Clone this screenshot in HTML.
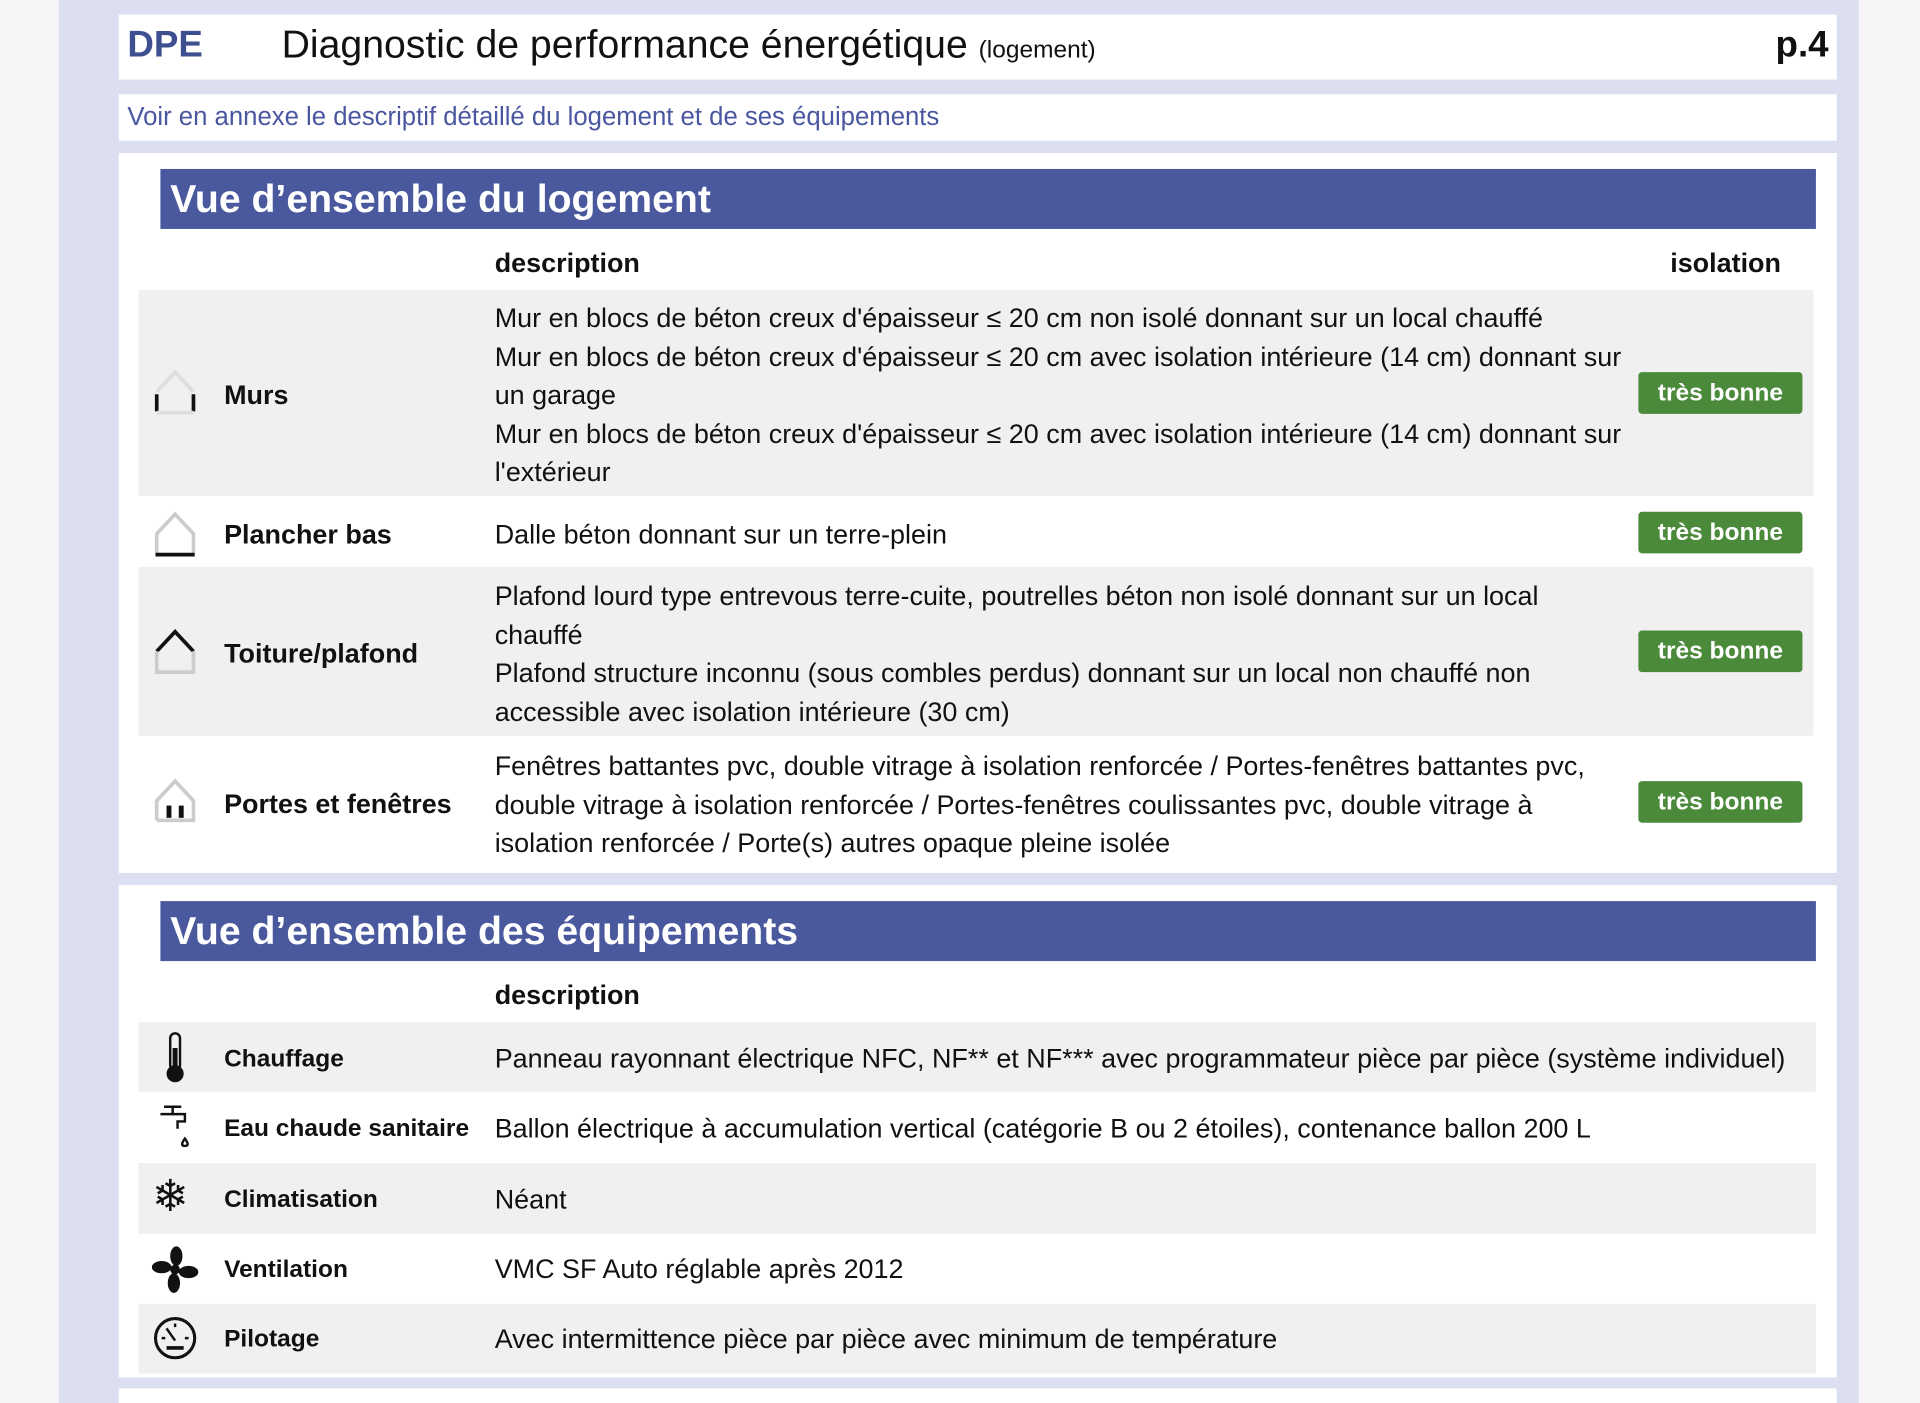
<!DOCTYPE html>
<html><head><meta charset="utf-8"><style>
html,body{margin:0;padding:0;width:1920px;height:1403px;overflow:hidden;background:#f6f6f8}
#s{position:absolute;left:0;top:0;width:1568px;height:1146px;transform:scale(1.22449,1.2243);transform-origin:0 0;font-family:"Liberation Sans Narrow","Liberation Sans",sans-serif;color:#111}
.a{position:absolute;white-space:nowrap}
.box{position:absolute;background:#fff}
.ban{position:absolute;left:131px;width:1352px;height:49px;background:#4a589d;color:#fff;font-weight:bold;font-size:32px;line-height:49px;padding-left:8px;box-sizing:border-box}
.row{position:absolute;left:113px;width:1368px;background:#f0f0f0}
.t{position:absolute;font-size:22px;line-height:31.5px;white-space:nowrap}
.b{font-weight:bold}
.badge{position:absolute;left:1338px;width:134px;height:34px;background:#4b8a3b;color:#fff;font-size:20px;line-height:34px;text-align:center;border-radius:3px;font-weight:bold}
</style></head><body><div id="s">
<div class="box" style="left:0;top:0;width:48px;height:1146px;background:#f6f6f8"></div>
<div class="box" style="left:48px;top:0;width:1470px;height:1146px;background:#dcdff0"></div>
<div class="box" style="left:1518px;top:0;width:50px;height:1146px;background:#f6f6f8"></div>

<div class="box" style="left:97px;top:12px;width:1403px;height:53px"></div>
<div class="a b" style="left:104px;top:20px;font-size:30px;color:#3d4f8f">DPE</div>
<div class="a" style="left:230px;top:18px;font-size:32px">Diagnostic de performance énergétique <span style="font-size:20px">(logement)</span></div>
<div class="a b" style="left:1450px;top:20px;font-size:30px">p.4</div>

<div class="box" style="left:97px;top:77px;width:1403px;height:38px"></div>
<div class="a" style="left:104px;top:84px;font-size:21px;color:#4a56a0">Voir en annexe le descriptif détaillé du logement et de ses équipements</div>

<div class="box" style="left:97px;top:125px;width:1403px;height:588px"></div>
<div class="ban" style="top:138px">Vue d’ensemble du logement</div>
<div class="t b" style="left:404px;top:199px">description</div>
<div class="t b" style="left:1364px;top:199px">isolation</div>

<div class="row" style="top:237px;height:168px"></div>
<div class="row" style="top:463px;height:138px"></div>

<svg class="a" style="left:124px;top:300px" width="38" height="40"><path d="M4 20 L19 4 L34 20" fill="none" stroke="#ddd" stroke-width="3"/><path d="M4 22v14M34 22v14" stroke="#111" stroke-width="3"/><path d="M4 37h30" stroke="#ddd" stroke-width="3"/></svg>
<div class="t b" style="left:183px;top:307px">Murs</div>
<div class="t" style="left:404px;top:244px">Mur en blocs de béton creux d'épaisseur ≤ 20 cm non isolé donnant sur un local chauffé<br>Mur en blocs de béton creux d'épaisseur ≤ 20 cm avec isolation intérieure (14 cm) donnant sur<br>un garage<br>Mur en blocs de béton creux d'épaisseur ≤ 20 cm avec isolation intérieure (14 cm) donnant sur<br>l'extérieur</div>
<div class="badge" style="top:304px">très bonne</div>

<svg class="a" style="left:124px;top:416px" width="38" height="40"><path d="M4 36 V20 L19 4 L34 20 V36" fill="none" stroke="#ccc" stroke-width="3"/><path d="M3 37h32" stroke="#111" stroke-width="3"/></svg>
<div class="t b" style="left:183px;top:421px">Plancher bas</div>
<div class="t" style="left:404px;top:421px">Dalle béton donnant sur un terre-plein</div>
<div class="badge" style="top:418px">très bonne</div>

<svg class="a" style="left:124px;top:512px" width="38" height="40"><path d="M4 20 L19 4 L34 20" fill="none" stroke="#111" stroke-width="3"/><path d="M4 20 V37 H34 V20" fill="none" stroke="#ccc" stroke-width="3"/></svg>
<div class="t b" style="left:183px;top:518px">Toiture/plafond</div>
<div class="t" style="left:404px;top:471px">Plafond lourd type entrevous terre-cuite, poutrelles béton non isolé donnant sur un local<br>chauffé<br>Plafond structure inconnu (sous combles perdus) donnant sur un local non chauffé non<br>accessible avec isolation intérieure (30 cm)</div>
<div class="badge" style="top:515px">très bonne</div>

<svg class="a" style="left:124px;top:634px" width="38" height="40"><path d="M4 36 V20 L19 4 L34 20 V36 H4" fill="none" stroke="#ccc" stroke-width="3"/><rect x="12" y="24" width="4" height="10" fill="#111"/><rect x="22" y="24" width="4" height="10" fill="#111"/></svg>
<div class="t b" style="left:183px;top:641px">Portes et fenêtres</div>
<div class="t" style="left:404px;top:610px">Fenêtres battantes pvc, double vitrage à isolation renforcée / Portes-fenêtres battantes pvc,<br>double vitrage à isolation renforcée / Portes-fenêtres coulissantes pvc, double vitrage à<br>isolation renforcée / Porte(s) autres opaque pleine isolée</div>
<div class="badge" style="top:638px">très bonne</div>

<div class="box" style="left:97px;top:723px;width:1403px;height:402px"></div>
<div class="ban" style="top:736px">Vue d’ensemble des équipements</div>
<div class="t b" style="left:404px;top:797px">description</div>

<div class="row" style="top:835px;height:57px;width:1370px"></div>
<div class="row" style="top:950px;height:58px;width:1370px"></div>
<div class="row" style="top:1065px;height:57px;width:1370px"></div>

<svg class="a" style="left:130px;top:842px" width="26" height="44"><rect x="9" y="2" width="8" height="30" rx="4" fill="none" stroke="#111" stroke-width="2"/><circle cx="13" cy="35" r="7" fill="#111"/><rect x="11" y="14" width="4" height="20" fill="#111"/></svg>
<div class="t b" style="left:183px;top:850px;font-size:20px">Chauffage</div>
<div class="t" style="left:404px;top:849px">Panneau rayonnant électrique NFC, NF** et NF*** avec programmateur pièce par pièce (système individuel)</div>

<svg class="a" style="left:128px;top:900px" width="30" height="42"><path d="M6 4h14M13 4v5M3 10h20v6h-6v6" fill="none" stroke="#111" stroke-width="2"/><path d="M23 30c-3 4-3 6 0 6s3-2 0-6z" fill="none" stroke="#111" stroke-width="2"/></svg>
<div class="t b" style="left:183px;top:907px;font-size:20px">Eau chaude sanitaire</div>
<div class="t" style="left:404px;top:906px">Ballon électrique à accumulation vertical (catégorie B ou 2 étoiles), contenance ballon 200 L</div>

<div class="a" style="left:124px;top:957px;font-size:36px;line-height:40px">❄</div>
<div class="t b" style="left:183px;top:965px;font-size:20px">Climatisation</div>
<div class="t" style="left:404px;top:964px">Néant</div>

<svg class="a" style="left:124px;top:1017px" width="38" height="40"><circle cx="19" cy="20" r="4" fill="#111"/><ellipse cx="20" cy="9" rx="5" ry="8" fill="#111"/><ellipse cx="30" cy="22" rx="8" ry="5" fill="#111"/><ellipse cx="18" cy="31" rx="5" ry="8" fill="#111"/><ellipse cx="8" cy="18" rx="8" ry="5" fill="#111"/></svg>
<div class="t b" style="left:183px;top:1022px;font-size:20px">Ventilation</div>
<div class="t" style="left:404px;top:1021px">VMC SF Auto réglable après 2012</div>

<svg class="a" style="left:124px;top:1073px" width="38" height="40"><circle cx="19" cy="20" r="16" fill="none" stroke="#111" stroke-width="2.5"/><path d="M19 22 L12 12M8 20h3M27 20h3M19 8v3" stroke="#111" stroke-width="2"/><path d="M12 28h14" stroke="#111" stroke-width="3"/></svg>
<div class="t b" style="left:183px;top:1079px;font-size:20px">Pilotage</div>
<div class="t" style="left:404px;top:1078px">Avec intermittence pièce par pièce avec minimum de température</div>

<div class="box" style="left:97px;top:1134px;width:1403px;height:12px"></div>
</div></body></html>
